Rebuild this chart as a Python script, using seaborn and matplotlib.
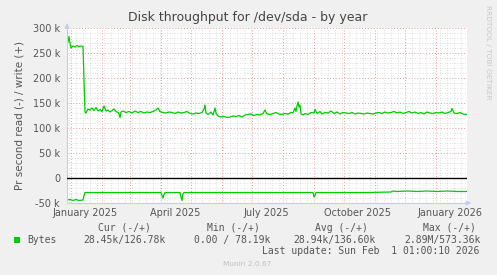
import numpy as np
import pandas as pd
import matplotlib
matplotlib.use("Agg")
import matplotlib.pyplot as plt
import matplotlib.dates as mdates
from matplotlib.ticker import MultipleLocator, FuncFormatter
from matplotlib.patches import Rectangle
import seaborn as sns

# ---------------- data ----------------
start_date = "2024-12-28"
span_days = 400

write_day = [0, 1, 2, 3, 4, 6, 8, 10, 12, 14,
             16, 17, 18, 19, 21, 23, 25, 27, 29, 31,
             33, 35, 37, 39, 41, 43, 45, 47, 49, 51,
             52, 53, 54, 56, 59, 62, 65, 68, 71, 74,
             77, 80, 83, 86, 89, 91, 93, 96, 99, 102,
             105, 108, 111, 114, 117, 120, 123, 126, 129, 132,
             135, 137, 138, 139, 141, 144, 146, 148, 149, 151,
             154, 157, 160, 163, 166, 169, 172, 175, 178, 181,
             184, 187, 190, 193, 196, 198, 200, 203, 206, 209,
             212, 215, 218, 221, 224, 226, 228, 229, 230, 231,
             232, 233, 234, 236, 238, 241, 244, 247, 248, 250,
             253, 255, 258, 261, 264, 267, 270, 273, 276, 279,
             282, 285, 288, 291, 294, 297, 300, 303, 306, 309,
             312, 315, 318, 321, 324, 327, 330, 333, 336, 339,
             342, 345, 348, 351, 354, 357, 360, 363, 366, 369,
             372, 375, 378, 381, 384, 385, 387, 390, 393, 396,
             398, 400]
write_k = [268, 272, 283, 270, 260, 264, 262, 265, 263, 264,
           263, 200, 132, 130, 138, 136, 140, 135, 141, 134,
           137, 133, 144, 134, 136, 132, 135, 138, 133, 131,
           128, 121, 132, 134, 131, 133, 130, 134, 131, 133,
           130, 132, 131, 133, 136, 140, 133, 131, 130, 132,
           131, 129, 132, 130, 131, 133, 129, 128, 130, 129,
           131, 138, 146, 130, 127, 132, 126, 140, 130, 124,
           122, 123, 121, 122, 124, 123, 125, 122, 126, 127,
           128, 125, 127, 126, 129, 136, 128, 127, 129, 131,
           128, 127, 129, 128, 131, 130, 140, 133, 144, 152,
           142, 146, 128, 126, 129, 127, 131, 130, 137, 129,
           133, 128, 131, 130, 134, 129, 132, 128, 131, 130,
           129, 131, 128, 130, 129, 128, 130, 129, 128, 130,
           131, 129, 132, 130, 131, 133, 130, 132, 129, 131,
           133, 130, 132, 129, 131, 128, 132, 130, 129, 131,
           130, 132, 129, 131, 133, 139, 130, 129, 131, 128,
           127, 127]

read_day = [0, 3, 6, 9, 12, 16, 17, 18, 60, 94,
            95, 96, 97, 98, 113, 114, 115, 116, 117, 180,
            246, 247, 248, 249, 300, 324, 326, 330, 340, 350,
            360, 370, 380, 390, 400]
read_k = [-44, -43, -45, -43, -45, -44, -36, -29, -29, -29,
          -35, -40, -33, -29, -29, -38, -45, -32, -29, -29,
          -29, -38, -35, -29, -29, -28, -26, -27, -26, -27,
          -26, -27, -26, -27, -27]

ytick_vals = [-50000, 0, 50000, 100000, 150000, 200000, 250000, 300000]
xlabel_dates = ["2025-01-15", "2025-04-15", "2025-07-15", "2025-10-15", "2026-01-15"]
xlabel_texts = ["January 2025", "April 2025", "July 2025", "October 2025", "January 2026"]

title = "Disk throughput for /dev/sda - by year"
ylabel = "Pr second read (-) / write (+)"
legend_headers = ["Cur (-/+)", "Min (-/+)", "Avg (-/+)", "Max (-/+)"]
legend_name = "Bytes"
legend_values = ["28.45k/126.78k", "0.00 / 78.19k", "28.94k/136.60k", "2.89M/573.36k"]
last_update = "Last update: Sun Feb  1 01:00:10 2026"
munin_ver = "Munin 2.0.67"
rrd_credit = "RRDTOOL / TOBI OETIKER"

# ---------------- build frames ----------------
t0 = pd.Timestamp(start_date)
df_w = pd.DataFrame({"date": t0 + pd.to_timedelta(write_day, unit="D"),
                     "value": np.array(write_k) * 1000.0})
df_r = pd.DataFrame({"date": t0 + pd.to_timedelta(read_day, unit="D"),
                     "value": np.array(read_k) * 1000.0})

# ---------------- style ----------------
sns.set_theme(style="white")
plt.rcParams["font.family"] = ["DejaVu Sans"]

W, H = 497, 275
BG = "#F0F0F0"
GREEN = "#00CC00"
TXT = "#555555"
AXC = "#C4CCF0"

fig = plt.figure(figsize=(W / 100, H / 100), dpi=100, facecolor=BG)
ax = fig.add_axes([67 / W, 72 / H, 400 / W, 175 / H])
ax.set_facecolor("white")

sns.lineplot(data=df_w, x="date", y="value", ax=ax, color=GREEN, lw=0.9)
sns.lineplot(data=df_r, x="date", y="value", ax=ax, color=GREEN, lw=0.9)

ax.set_xlim(t0, t0 + pd.Timedelta(days=span_days))
ax.set_ylim(-50000, 300000)

# grids
ax.xaxis.set_major_locator(mdates.MonthLocator())
ax.xaxis.set_minor_locator(mdates.WeekdayLocator(byweekday=mdates.MO))
ax.yaxis.set_major_locator(MultipleLocator(50000))
ax.yaxis.set_minor_locator(MultipleLocator(10000))
ax.grid(which="minor", color="#C4C4C4", linestyle=(0, (1, 2)), lw=0.6, alpha=0.7)
ax.grid(which="major", color="#E89090", linestyle=(0, (1, 2)), lw=0.7, alpha=0.9)
ax.set_axisbelow(True)

ax.set_xticklabels([])
ax.tick_params(axis="x", which="both", length=0)
ax.tick_params(axis="y", which="both", length=0, labelsize=7, labelcolor=TXT, pad=5)
ax.set_yticks(ytick_vals)


def yfmt(v, pos):
    if v == 0:
        return "0"
    return f"{int(round(v / 1000))} k"


ax.yaxis.set_major_formatter(FuncFormatter(yfmt))
ax.set_xlabel("")
ax.set_ylabel(ylabel, fontsize=7.5, color=TXT, labelpad=6)

# date labels via secondary axis
sec = ax.secondary_xaxis("bottom")
sec.set_xticks([mdates.date2num(pd.Timestamp(d)) for d in xlabel_dates])
sec.set_xticklabels(xlabel_texts)
sec.tick_params(length=0, labelsize=7, labelcolor=TXT, pad=3.5)
sec.spines["bottom"].set_visible(False)

# zero line
ax.axhline(0, color="black", lw=1.0, zorder=3)

# spines
for s in ["top", "right"]:
    ax.spines[s].set_visible(False)
for s in ["left", "bottom"]:
    ax.spines[s].set_color(AXC)
    ax.spines[s].set_linewidth(0.8)
ax.annotate("", xy=(0, 1.045), xytext=(0, 0.98), xycoords="axes fraction",
            arrowprops=dict(arrowstyle="-|>", color=AXC, lw=0.8, mutation_scale=7),
            annotation_clip=False)
ax.annotate("", xy=(1.018, 0), xytext=(0.99, 0), xycoords="axes fraction",
            arrowprops=dict(arrowstyle="-|>", color=AXC, lw=0.8, mutation_scale=7),
            annotation_clip=False)

# title
fig.text(248 / W, 1 - 18 / H, title, ha="center", va="center", fontsize=9, color="#444444")
# credit
fig.text(488 / W, 1 - 52 / H, rrd_credit, ha="center", va="center", rotation=270,
         fontsize=5.3, color="#C8C8C8")

# legend block
mono = "DejaVu Sans Mono"
hdr_x = [98, 207, 315, 423]
val_x = [83, 194, 293, 404]
for x, t in zip(hdr_x, legend_headers):
    fig.text(x / W, 1 - 228 / H, t, ha="left", va="center", fontsize=7, family=mono, color=TXT)
fig.patches.append(Rectangle((14 / W, 1 - 243 / H), 6 / W, 6 / H, transform=fig.transFigure,
                             facecolor=GREEN, edgecolor="none"))
fig.text(27 / W, 1 - 240 / H, legend_name, ha="left", va="center", fontsize=7, family=mono, color=TXT)
for x, t in zip(val_x, legend_values):
    fig.text(x / W, 1 - 240 / H, t, ha="left", va="center", fontsize=7, family=mono, color=TXT)
fig.text(262 / W, 1 - 251 / H, last_update, ha="left", va="center", fontsize=7, family=mono, color=TXT)
fig.text(223 / W, 1 - 264 / H, munin_ver, ha="left", va="center", fontsize=5.3, color="#C0C0C0")

fig.savefig("out.png", dpi=100, facecolor=BG)
